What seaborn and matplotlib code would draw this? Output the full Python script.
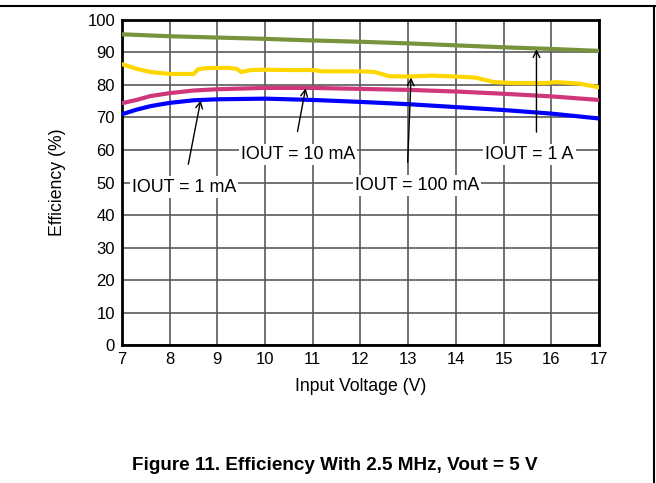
import numpy as np
import pandas as pd
import seaborn as sns
import matplotlib.pyplot as plt
from matplotlib.lines import Line2D

# Data
v_green = [7.0, 8.0, 9.0, 10.0, 11.0, 12.0, 13.0, 14.0, 15.0, 16.0, 17.0]
eff_1a = [95.6, 95.0, 94.6, 94.2, 93.7, 93.3, 92.8, 92.2, 91.6, 91.1, 90.5]

v_yellow = [7.0, 7.3, 7.6, 8.0, 8.5, 8.6, 8.8, 9.2, 9.4, 9.5, 9.7, 10.0, 10.5,
            11.0, 11.2, 12.0, 12.3, 12.6, 13.0, 13.5, 14.0, 14.4, 14.8, 15.2,
            15.9, 16.1, 16.6, 17.0]
eff_100ma = [86.4, 85.0, 84.0, 83.4, 83.4, 84.9, 85.2, 85.3, 85.0, 84.0, 84.6,
             84.7, 84.6, 84.6, 84.2, 84.2, 84.0, 82.7, 82.6, 82.9, 82.6, 82.3,
             80.9, 80.6, 80.6, 80.9, 80.4, 79.3]

v_curve = [7.0, 7.3, 7.6, 8.0, 8.5, 9.0, 10.0, 11.0, 12.0, 13.0, 14.0, 15.0, 16.0, 17.0]
eff_10ma = [74.4, 75.4, 76.6, 77.5, 78.3, 78.7, 79.1, 79.1, 78.8, 78.5, 78.0, 77.3, 76.5, 75.4]
eff_1ma = [71.0, 72.4, 73.5, 74.5, 75.3, 75.6, 75.8, 75.4, 74.8, 74.1, 73.2, 72.3, 71.2, 69.7]

labels = ['IOUT = 1 mA', 'IOUT = 10 mA', 'IOUT = 100 mA', 'IOUT = 1 A']
label_pos = [(7.21, 48.6), (9.49, 58.7), (11.88, 49.0), (14.62, 58.7)]
arrow_tail = [(8.39, 55.6), (10.68, 65.7), (12.99, 56.2), (15.69, 65.5)]
arrow_head = [(8.65, 75.3), (10.85, 79.0), (13.06, 82.3), (15.69, 91.0)]

sns.set_style('white')
plt.rcParams['font.family'] = ['Liberation Sans', 'DejaVu Sans']
plt.rcParams['text.color'] = 'black'
plt.rcParams['axes.labelcolor'] = 'black'

fig = plt.figure(figsize=(6.56, 4.83), dpi=100)
ax = fig.add_axes([0.186, 0.2857, 0.727, 0.6729])

series = [
    (v_green, eff_1a, '#77933C'),
    (v_yellow, eff_100ma, '#FFD700'),
    (v_curve, eff_10ma, '#D0367A'),
    (v_curve, eff_1ma, '#0000FF'),
]
for xs, ys, col in series:
    df = pd.DataFrame({'V': xs, 'Eff': ys})
    sns.lineplot(data=df, x='V', y='Eff', color=col, linewidth=3, ax=ax, zorder=3)

ax.set_xlim(7, 17)
ax.set_ylim(0, 100)
ax.set_xticks(range(7, 18))
ax.set_yticks(range(0, 101, 10))
ax.grid(True, color='#5a5a5a', linewidth=1.2)
ax.set_axisbelow(True)
for s in ax.spines.values():
    s.set_color('black')
    s.set_linewidth(2)
ax.tick_params(length=0, labelsize=12, pad=5, colors='black')
ax.set_xlabel('Input Voltage (V)', fontsize=12.7, labelpad=8)
ax.set_ylabel('Efficiency (%)', fontsize=12.7, labelpad=15)

# arrows and labels
for tail, head in zip(arrow_tail, arrow_head):
    ax.annotate('', xy=head, xytext=tail,
                arrowprops=dict(arrowstyle='->', color='black', lw=1,
                                mutation_scale=12, shrinkA=0, shrinkB=0),
                zorder=4)
for txt, (x, y) in zip(labels, label_pos):
    ax.text(x, y, txt, fontsize=12.9, ha='left', va='center', zorder=5,
            bbox=dict(facecolor='white', edgecolor='none', pad=1.5))

fig.text(0.511, 0.037, 'Figure 11. Efficiency With 2.5 MHz, Vout = 5 V',
         fontsize=13.6, fontweight='bold', ha='center', va='center')

# page border
fig.add_artist(Line2D([0, 1], [0.9876, 0.9876], color='black', lw=1.5,
                      transform=fig.transFigure))
fig.add_artist(Line2D([0.997, 0.997], [0, 0.9876], color='black', lw=1.5,
                      transform=fig.transFigure))

fig.savefig('out.png', dpi=100)
